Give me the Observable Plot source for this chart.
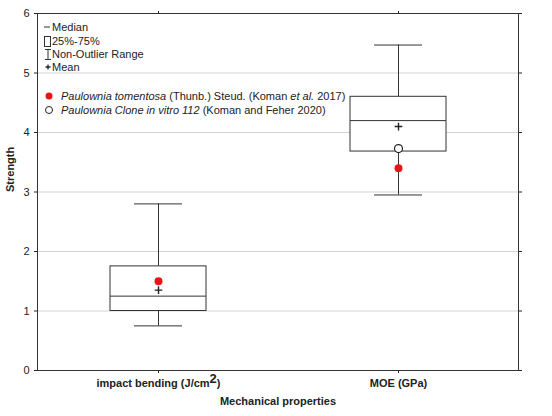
<!DOCTYPE html>
<html><head><meta charset="utf-8">
<script src="https://cdn.jsdelivr.net/npm/d3@7"></script>
<script src="https://cdn.jsdelivr.net/npm/@observablehq/plot@0.6"></script>
<style>
body{margin:0;background:#fff;font-family:"Liberation Sans",Arial,sans-serif;}
</style></head><body><div id="chart"></div>
<script>
const categories = ["impact bending (J/cm²)", "MOE (GPa)"];
const whiskerLow = [0.75, 2.95];
const q1 = [1.0, 3.68];
const median = [1.25, 4.2];
const q3 = [1.75, 4.6];
const whiskerHigh = [2.8, 5.47];
const mean = [1.35, 4.1];
const tomentosa = [1.5, 3.4];
const cloneVitro = [null, 3.73];
const yTicks = [0, 1, 2, 3, 4, 5, 6];
const legendBox = ["Median", "25%-75%", "Non-Outlier Range", "Mean"];

const data = categories.map((c, i) => ({cat: c, lo: whiskerLow[i], q1: q1[i], med: median[i], q3: q3[i], hi: whiskerHigh[i], mean: mean[i], tom: tomentosa[i], clone: cloneVitro[i]}));
const ink = "#333";
const chart = Plot.plot({
  width: 552, height: 416, marginLeft: 37, marginRight: 34, marginTop: 13, marginBottom: 46,
  style: {fontFamily: "'Liberation Sans', Arial, sans-serif", fontSize: "11px", color: "#222", background: "#fff"},
  x: {type: "band", domain: categories, paddingInner: 0.6, paddingOuter: 0.3, label: null},
  y: {domain: [0, 6], label: null},
  marks: [
    Plot.gridY(yTicks, {stroke: "#d4d4d4", strokeOpacity: 1}),
    Plot.ruleX(data, {x: "cat", y1: "lo", y2: "q1", stroke: ink}),
    Plot.ruleX(data, {x: "cat", y1: "q3", y2: "hi", stroke: ink}),
    Plot.tickY(data, {x: "cat", y: "lo", insetLeft: 24, insetRight: 24, stroke: ink}),
    Plot.tickY(data, {x: "cat", y: "hi", insetLeft: 24, insetRight: 24, stroke: ink}),
    Plot.barY(data, {x: "cat", y1: "q1", y2: "q3", fill: "white", stroke: ink}),
    Plot.tickY(data, {x: "cat", y: "med", stroke: ink}),
    Plot.dot(data, {x: "cat", y: "mean", symbol: "plus", r: 2.6, stroke: "#222", strokeWidth: 1.4}),
    Plot.dot(data.filter(d => d.tom != null), {x: "cat", y: "tom", r: 4, fill: "#e8141a", stroke: null}),
    Plot.dot(data.filter(d => d.clone != null), {x: "cat", y: "clone", r: 4, fill: "white", stroke: "#222", strokeWidth: 1.2}),
    Plot.frame({stroke: ink}),
    Plot.axisY(yTicks, {anchor: "left", tickSize: 3, tickPadding: 5, tickFormat: d3.format("d"), label: null}),
    Plot.axisY(yTicks, {anchor: "right", tickSize: 3, tickFormat: () => "", label: null}),
    Plot.axisX({anchor: "bottom", tickSize: 3, tickPadding: 6, fontWeight: "bold", label: null}),
    Plot.axisX({anchor: "top", tickSize: 3, tickFormat: () => "", label: null}),
    Plot.text(["Strength"], {frameAnchor: "left", dx: -27, rotate: -90, fontWeight: "bold"}),
    Plot.text(["Mechanical properties"], {frameAnchor: "bottom", dy: 34, fontWeight: "bold"})
  ]
});
document.getElementById("chart").append(chart);

// superscript for cm²
d3.select(chart).selectAll("text").each(function () {
  const t = d3.select(this);
  const s = t.text();
  if (s.includes("²") && t.selectAll("tspan").size() <= 1) {
    const target = t.select("tspan").empty() ? t : t.select("tspan");
    const parts = s.split("²");
    target.text(parts[0]);
    target.append("tspan").attr("dy", "-0.35em").attr("font-size", "13px").text("2");
    target.append("tspan").attr("dy", "0.35em").text(parts[1]);
  }
});

// legend
const g = d3.select(chart).append("g").attr("font-size", 11).attr("fill", "#222").attr("text-anchor", "start").attr("font-family", "'Liberation Sans', Arial, sans-serif");
const rowsY = [27, 41, 54, 67];
legendBox.forEach((s, i) => g.append("text").attr("x", 52).attr("y", rowsY[i]).attr("dy", "0.35em").text(s));
g.append("line").attr("x1", 44).attr("x2", 50).attr("y1", 27).attr("y2", 27).attr("stroke", ink);
g.append("rect").attr("x", 44.5).attr("y", 36.5).attr("width", 6).attr("height", 10).attr("fill", "none").attr("stroke", ink);
g.append("path").attr("d", "M45,49.5H51M48,49.5V59.5M45,59.5H51").attr("stroke", ink).attr("fill", "none");
g.append("path").attr("d", "M45.5,67H50.5M48,64.5V69.5").attr("stroke", "#222").attr("stroke-width", 1.3);
g.append("circle").attr("cx", 49).attr("cy", 96).attr("r", 3.5).attr("fill", "#e8141a");
g.append("circle").attr("cx", 49).attr("cy", 110).attr("r", 3.5).attr("fill", "white").attr("stroke", "#222");
const t1 = g.append("text").attr("x", 61).attr("y", 96).attr("dy", "0.35em");
t1.append("tspan").attr("font-style", "italic").text("Paulownia tomentosa");
t1.append("tspan").text(" (Thunb.) Steud. (Koman ");
t1.append("tspan").attr("font-style", "italic").text("et al.");
t1.append("tspan").text(" 2017)");
const t2 = g.append("text").attr("x", 61).attr("y", 110).attr("dy", "0.35em");
t2.append("tspan").attr("font-style", "italic").text("Paulownia Clone in vitro 112");
t2.append("tspan").text(" (Koman and Feher 2020)");
</script></body></html>
